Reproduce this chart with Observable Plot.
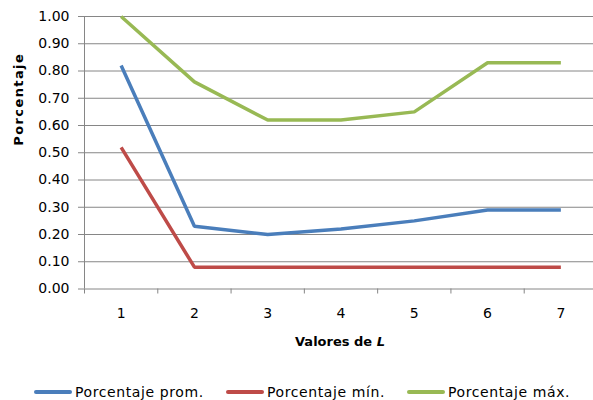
<!DOCTYPE html>
<html>
<head>
<meta charset="utf-8">
<script src="https://cdn.jsdelivr.net/npm/d3@7"></script>
<script src="https://cdn.jsdelivr.net/npm/@observablehq/plot@0.6"></script>
<style>
  html, body { margin: 0; padding: 0; background: #fff; overflow: hidden; }
  #wrap { position: relative; width: 593px; height: 400px; overflow: hidden; background: #fff; font-family: "DejaVu Sans", sans-serif; }
  #chart svg { max-width: none !important; display: block; }
  #xlabel { position: absolute; left: 240px; width: 200px; top: 334px; text-align: center; font-size: 13px; font-weight: bold; color: #000; }
  #legend { position: absolute; left: 0; top: 384px; width: 593px; font-size: 14px; letter-spacing: 0.6px; color: #000; }
  .item { position: absolute; top: 0; white-space: nowrap; line-height: 17px; }
  .sw { display: inline-block; width: 38px; height: 4px; vertical-align: middle; margin-right: 3px; position: relative; top: -1px; border-radius: 2px; }
</style>
</head>
<body>
<div id="wrap">
  <div id="chart"></div>
  <div id="xlabel">Valores de <i>L</i></div>
  <div id="legend"></div>
</div>
<script>
// Values of L on the horizontal axis
const L = [1, 2, 3, 4, 5, 6, 7];
// Percentages per series
const prom = [0.82, 0.23, 0.20, 0.22, 0.25, 0.29, 0.29];
const minimo = [0.52, 0.08, 0.08, 0.08, 0.08, 0.08, 0.08];
const maximo = [1.00, 0.76, 0.62, 0.62, 0.65, 0.83, 0.83];
const seriesNames = ["Porcentaje prom.", "Porcentaje mín.", "Porcentaje máx."];
const seriesColors = ["#4A7EBB", "#BE4B48", "#98B954"];
const yTicks = [0, 0.1, 0.2, 0.3, 0.4, 0.5, 0.6, 0.7, 0.8, 0.9, 1.0];
// category boundaries where the small x tick marks sit
const xBounds = [0.5, 1.5, 2.5, 3.5, 4.5, 5.5, 6.5, 7.5];

const values = [prom, minimo, maximo];
const rows = [];
seriesNames.forEach((s, i) => L.forEach((l, j) => rows.push({L: l, value: values[i][j], serie: s})));

const grid = "#868686";

const chart = Plot.plot({
  width: 597,
  height: 330,
  marginLeft: 84,
  marginRight: 0,
  marginTop: 16,
  marginBottom: 41.5,
  style: {fontFamily: "DejaVu Sans, sans-serif", fontSize: "14px", color: "#000", background: "white", overflow: "visible"},
  x: {type: "linear", domain: [0.5, 7.5]},
  y: {domain: [0, 1]},
  color: {domain: seriesNames, range: seriesColors},
  marks: [
    Plot.gridY(yTicks, {stroke: grid, strokeOpacity: 1, strokeWidth: 1}),
    Plot.ruleX([0.5], {stroke: grid, strokeWidth: 1}),
    Plot.axisY({ticks: yTicks, tickFormat: d3.format(".2f"), tickSize: 6, tickPadding: 9, stroke: grid, label: null}),
    Plot.axisX({ticks: xBounds, tickSize: 5, tickFormat: () => "", stroke: grid, label: null}),
    Plot.axisX({ticks: L, tickSize: 0, tickPadding: 19, tickFormat: d => String(d), label: null}),
    Plot.text(["Porcentaje"], {frameAnchor: "left", dx: -66, dy: -7, rotate: -90, fontWeight: "bold", fontSize: 13}),
    Plot.line(rows, {x: "L", y: "value", z: "serie", stroke: "serie", strokeWidth: 3.5, strokeLinejoin: "miter", strokeLinecap: "butt"})
  ]
});
document.getElementById("chart").appendChild(chart);
chart.querySelectorAll("text").forEach(t => {
  if (t.textContent === "Porcentaje") t.setAttribute("letter-spacing", "1.4");
});

// legend below the chart
const legendX = [34, 226, 407];
const legend = document.getElementById("legend");
seriesNames.forEach((s, i) => {
  const item = document.createElement("div");
  item.className = "item";
  item.style.left = legendX[i] + "px";
  item.innerHTML = `<span class="sw" style="background:${seriesColors[i]}"></span>${s}`;
  legend.appendChild(item);
});
</script>
</body>
</html>
